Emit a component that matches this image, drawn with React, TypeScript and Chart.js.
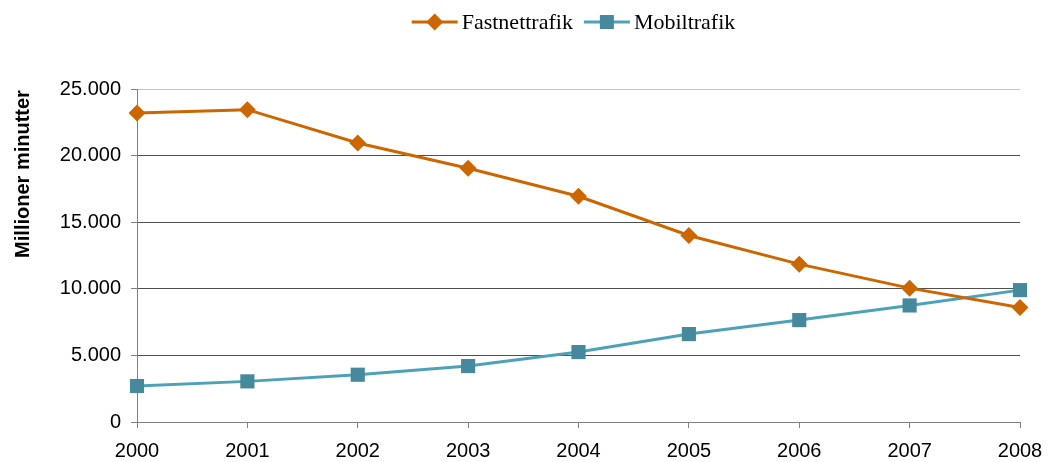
import React, { useEffect, useRef } from "react";
import { Chart, registerables } from "chart.js";

Chart.register(...registerables);

const years = ["2000", "2001", "2002", "2003", "2004", "2005", "2006", "2007", "2008"];
const fastnet = [23200, 23450, 20950, 19050, 16950, 14000, 11850, 10050, 8600];
const mobil = [2700, 3050, 3550, 4200, 5250, 6600, 7650, 8750, 9900];
const seriesNames = ["Fastnettrafik", "Mobiltrafik"];
const yTitle = "Millioner minutter";

const ORANGE = "#CC6600";
const BLUE_LINE = "#4DA2B9";
const BLUE_MARK = "#46889C";

function fmt(v: number) {
  return String(Math.round(v)).replace(/\B(?=(\d{3})+(?!\d))/g, ".");
}

const legendPlugin = {
  id: "customLegend",
  afterDraw(chart: any) {
    const ctx = chart.ctx;
    const area = chart.chartArea;
    ctx.save();
    ctx.font = "22px 'Liberation Serif', 'Times New Roman', serif";
    ctx.textBaseline = "middle";
    const lineLen = 46;
    const gapText = 4;
    const gapItem = 11;
    const widths = seriesNames.map((n) => ctx.measureText(n).width);
    const total = widths.reduce((a, w) => a + lineLen + gapText + w, 0) + gapItem;
    let x = (area.left + area.right) / 2 - total / 2 - 5;
    const y = 22;
    chart.data.datasets.forEach((ds: any, i: number) => {
      ctx.strokeStyle = ds.borderColor;
      ctx.lineWidth = 3;
      ctx.beginPath();
      ctx.moveTo(x, y);
      ctx.lineTo(x + lineLen, y);
      ctx.stroke();
      const cx = x + lineLen / 2;
      ctx.fillStyle = ds.pointBackgroundColor;
      ctx.beginPath();
      if (ds.pointStyle === "rectRot") {
        const r = 8.5;
        ctx.moveTo(cx, y - r);
        ctx.lineTo(cx + r, y);
        ctx.lineTo(cx, y + r);
        ctx.lineTo(cx - r, y);
        ctx.closePath();
      } else {
        const h = 7;
        ctx.rect(cx - h, y - h, 2 * h, 2 * h);
      }
      ctx.fill();
      ctx.fillStyle = "#000";
      ctx.textAlign = "left";
      ctx.fillText(seriesNames[i], x + lineLen + gapText, y + 1);
      x += lineLen + gapText + widths[i] + gapItem;
    });
    ctx.restore();
  },
};

const yTitlePlugin = {
  id: "yTitle",
  afterDraw(chart: any) {
    const ctx = chart.ctx;
    ctx.save();
    ctx.translate(23, 174);
    ctx.rotate(-Math.PI / 2);
    ctx.font = "bold 20px 'Liberation Sans', Arial, sans-serif";
    ctx.fillStyle = "#000";
    ctx.textAlign = "center";
    ctx.textBaseline = "middle";
    ctx.fillText(yTitle, 0, 0);
    ctx.restore();
  },
};

export default function App() {
  const ref = useRef<HTMLCanvasElement>(null);
  useEffect(() => {
    if (!ref.current) return;
    const chart = new Chart(ref.current, {
      type: "line",
      data: {
        labels: years,
        datasets: [
          {
            label: seriesNames[0],
            data: fastnet,
            borderColor: ORANGE,
            backgroundColor: ORANGE,
            pointBackgroundColor: ORANGE,
            pointBorderWidth: 0,
            borderWidth: 3,
            pointStyle: "rectRot",
            pointRadius: 8.5,
            tension: 0,
          },
          {
            label: seriesNames[1],
            data: mobil,
            borderColor: BLUE_LINE,
            backgroundColor: BLUE_MARK,
            pointBackgroundColor: BLUE_MARK,
            pointBorderWidth: 0,
            borderWidth: 3,
            pointStyle: "rect",
            pointRadius: 10,
            tension: 0,
          },
        ],
      },
      options: {
        responsive: false,
        animation: false,
        layout: { padding: { top: 89, right: 30, left: 0, bottom: 0 } },
        plugins: { legend: { display: false }, tooltip: { enabled: false } },
        scales: {
          x: {
            offset: false,
            afterFit: (s: any) => {
              s.height = 40;
              s.paddingRight = 0;
              s.paddingLeft = 0;
            },
            grid: {
              drawOnChartArea: false,
              drawTicks: true,
              tickLength: 6,
              tickColor: "#808080",
              color: "#808080",
            },
            border: { color: "#808080", width: 1 },
            ticks: {
              color: "#000",
              padding: 11,
              maxRotation: 0,
              font: { family: "'Liberation Sans', Arial, sans-serif", size: 20 },
            },
          },
          y: {
            min: 0,
            max: 25000,
            afterFit: (s: any) => {
              s.width = 137;
            },
            grid: {
              color: (c: any) =>
                c.tick && c.tick.value === 25000
                  ? "#c4c4c4"
                  : c.tick && c.tick.value === 0
                  ? "#808080"
                  : "#505050",
              lineWidth: 1,
              drawTicks: true,
              tickLength: 6,
              tickColor: "#808080",
            },
            border: { color: "#808080", width: 1 },
            ticks: {
              stepSize: 5000,
              color: "#000",
              padding: 10,
              font: { family: "'Liberation Sans', Arial, sans-serif", size: 20 },
              callback: (v: any) => fmt(Number(v)),
            },
          },
        },
      },
      plugins: [legendPlugin, yTitlePlugin],
    });
    return () => chart.destroy();
  }, []);
  return (
    <div style={{ position: "absolute", left: 0, top: 0, width: 1050, height: 462 }}>
      <canvas ref={ref} width={1050} height={462} />
    </div>
  );
}
